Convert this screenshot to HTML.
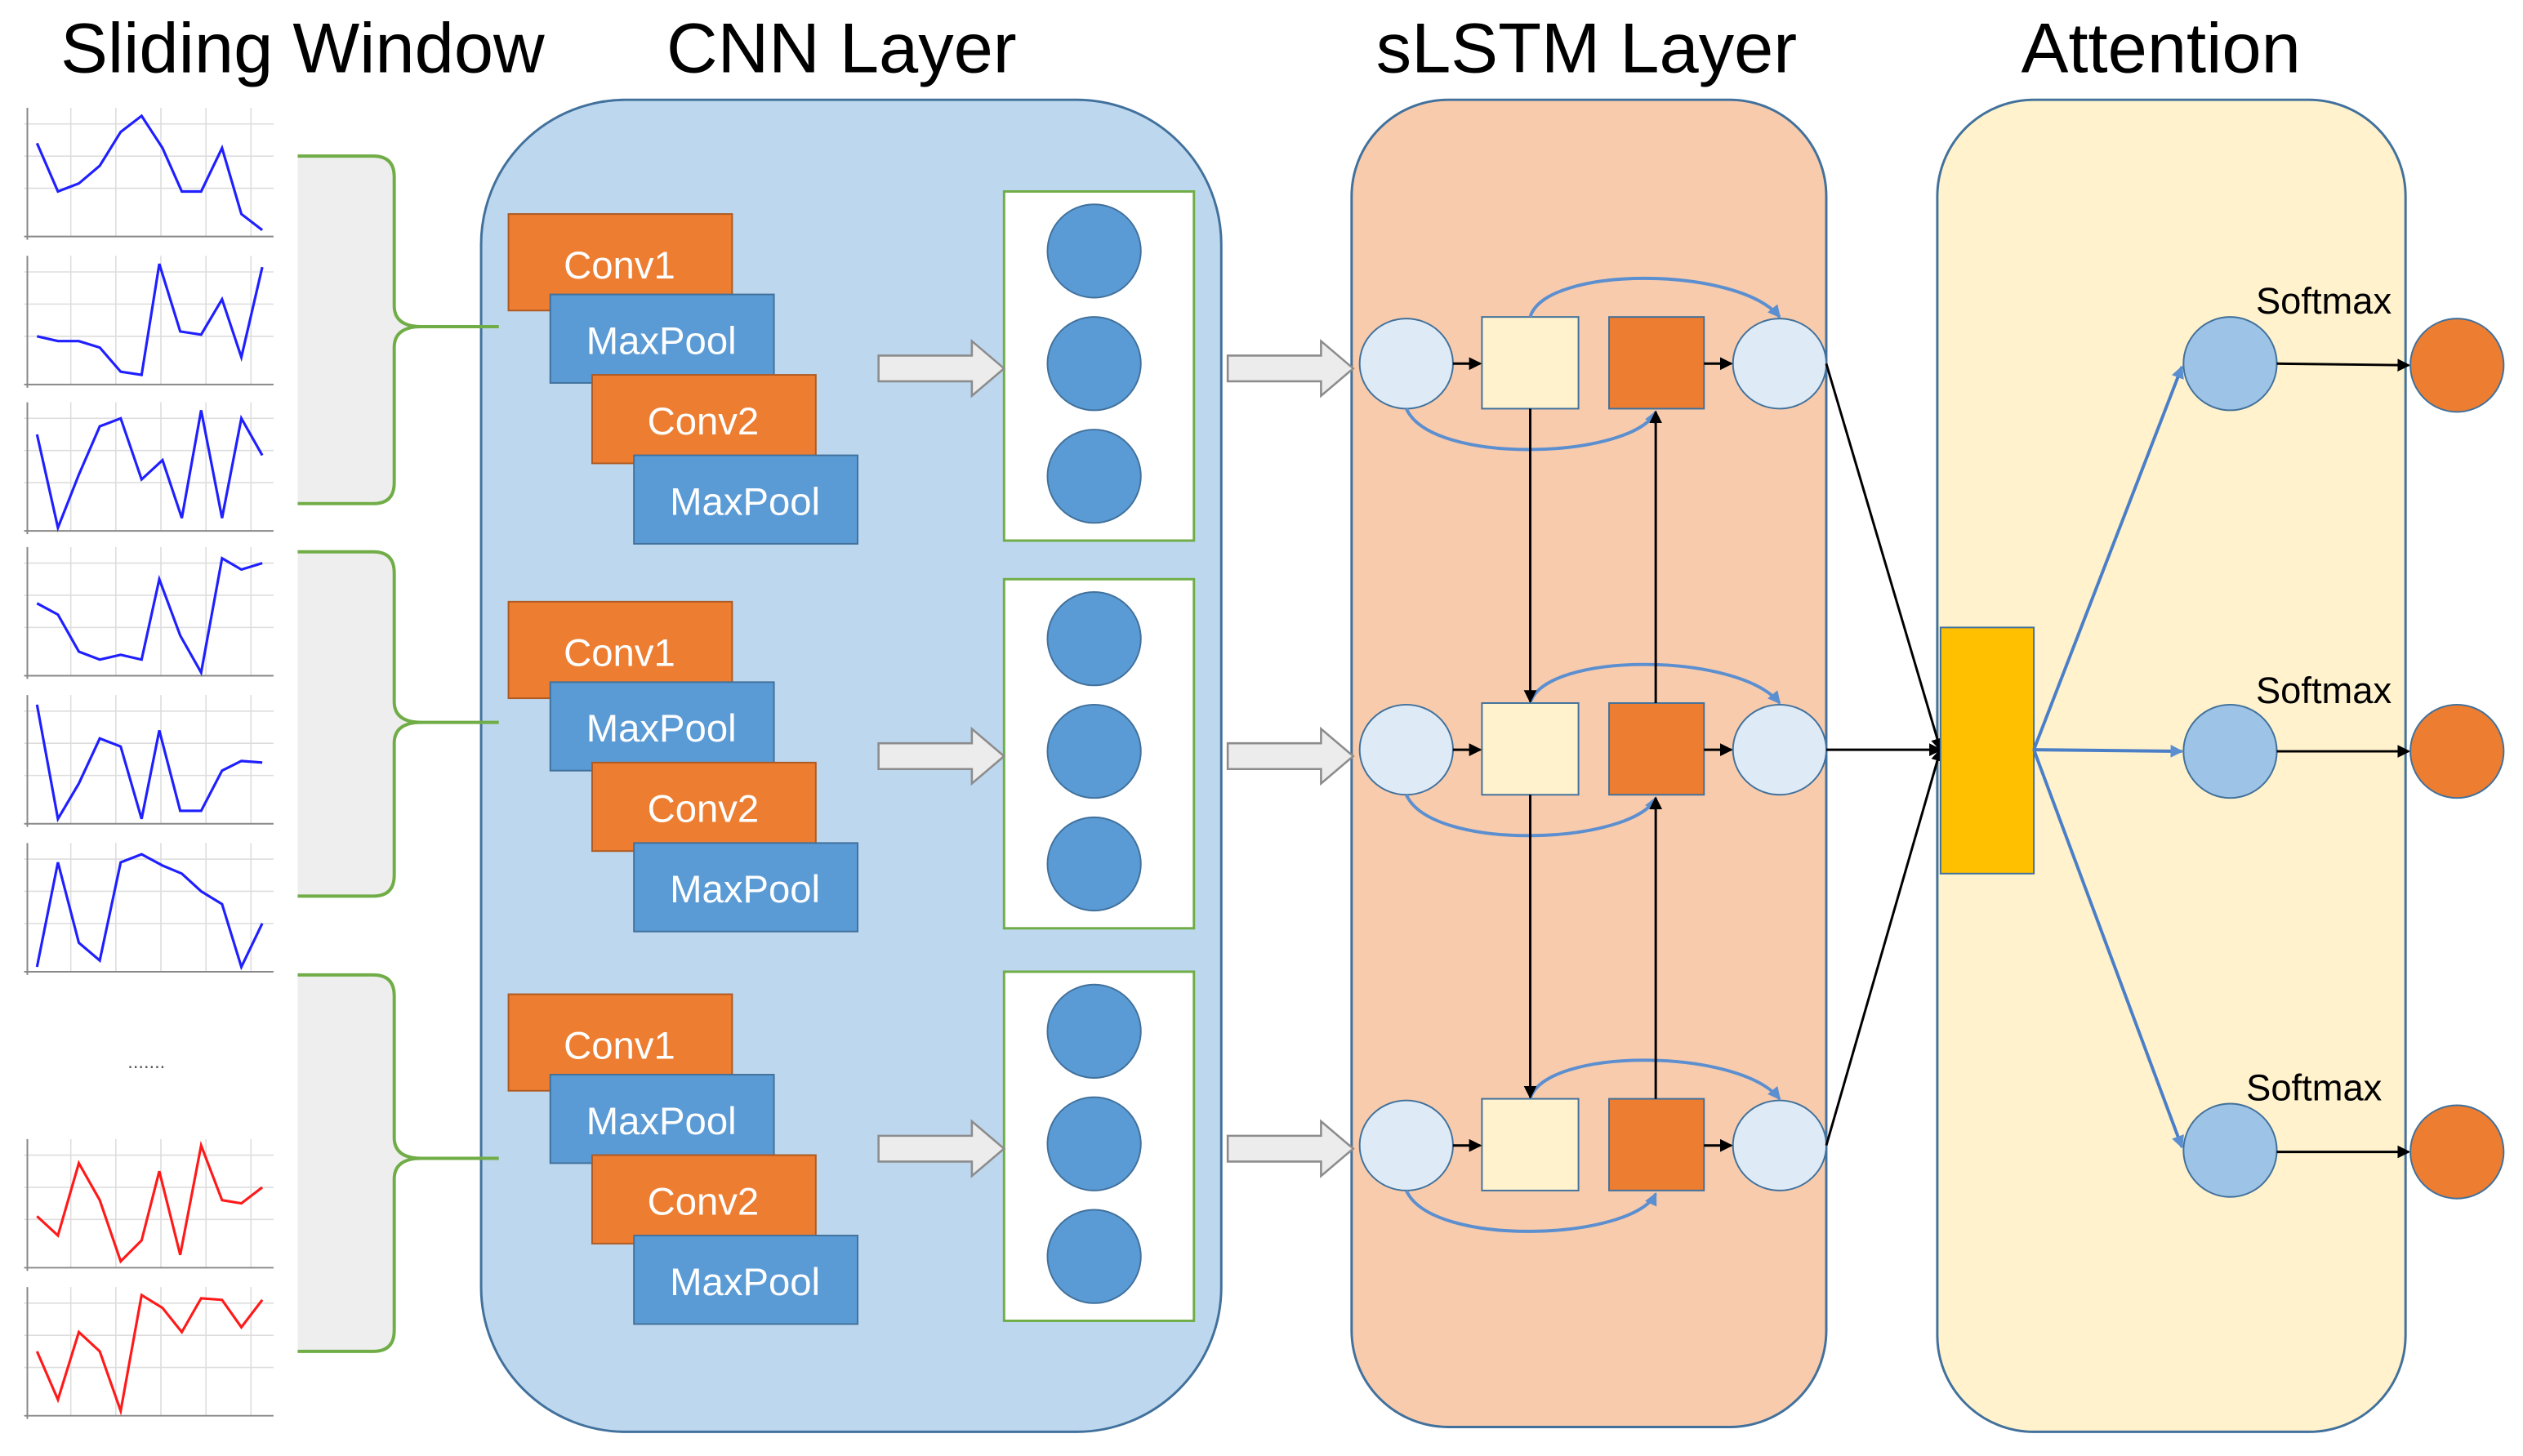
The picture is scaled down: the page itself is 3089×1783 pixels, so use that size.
<!DOCTYPE html>
<html><head><meta charset="utf-8"><style>html,body{margin:0;padding:0;background:#fff}svg{display:block}</style></head><body>
<svg width="3089" height="1783" viewBox="0 0 1568 905" xmlns="http://www.w3.org/2000/svg" font-family="Liberation Sans, sans-serif">
<defs>
<marker id="ab" markerWidth="8" markerHeight="8" refX="7" refY="4" orient="auto" markerUnits="userSpaceOnUse"><path d="M0,0 L8,4 L0,8 z" fill="#000"/></marker>
<marker id="abl" markerWidth="8" markerHeight="8" refX="7" refY="4" orient="auto" markerUnits="userSpaceOnUse"><path d="M0,0 L8,4 L0,8 z" fill="#5b8fd0"/></marker>
<g id="arr"><path d="M0,-8 H58 V-17 L78,0 L58,17 V8 H0 Z" fill="#ececec" stroke="#8c8c8c" stroke-width="1.3"/></g>
<g id="cnn">
<rect x="316" y="133" width="139" height="60" fill="#ed7d31" stroke="#ae5a21"/>
<text x="385" y="173" font-size="24" fill="#fff" text-anchor="middle">Conv1</text>
<rect x="342" y="183" width="139" height="55" fill="#5b9bd5" stroke="#41719c"/>
<text x="411" y="220" font-size="24" fill="#fff" text-anchor="middle">MaxPool</text>
<rect x="368" y="233" width="139" height="55" fill="#ed7d31" stroke="#ae5a21"/>
<text x="437" y="270" font-size="24" fill="#fff" text-anchor="middle">Conv2</text>
<rect x="394" y="283" width="139" height="55" fill="#5b9bd5" stroke="#41719c"/>
<text x="463" y="320" font-size="24" fill="#fff" text-anchor="middle">MaxPool</text>
<rect x="624" y="119" width="118" height="217" fill="#fff" stroke="#70ad47" stroke-width="1.5"/>
<circle cx="680" cy="156" r="29" fill="#5b9bd5" stroke="#41719c"/>
<circle cx="680" cy="226" r="29" fill="#5b9bd5" stroke="#41719c"/>
<circle cx="680" cy="296" r="29" fill="#5b9bd5" stroke="#41719c"/>
<use href="#arr" x="546" y="229"/>
<use href="#arr" x="763" y="229"/>
</g>
<g id="lstm">
<ellipse cx="874" cy="226" rx="29" ry="28" fill="#deebf7" stroke="#41719c"/>
<rect x="921" y="197" width="60" height="57" fill="#fff2cc" stroke="#41719c"/>
<rect x="1000" y="197" width="59" height="57" fill="#ed7d31" stroke="#41719c"/>
<ellipse cx="1106" cy="226" rx="29" ry="28" fill="#deebf7" stroke="#41719c"/>
<line x1="903" y1="226" x2="920" y2="226" stroke="#000" stroke-width="1.5" marker-end="url(#ab)"/>
<line x1="1059" y1="226" x2="1076" y2="226" stroke="#000" stroke-width="1.5" marker-end="url(#ab)"/>
<path d="M951,197 C960,165 1080,165 1106,197" fill="none" stroke="#5b8fd0" stroke-width="2" marker-end="url(#abl)"/>
<path d="M874,254 C890,290 1015,285 1029,256" fill="none" stroke="#5b8fd0" stroke-width="2" marker-end="url(#abl)"/>
</g>
<g id="chart">
<g stroke="#ddd" stroke-width="0.8">
<line x1="15" y1="10" x2="170" y2="10"/><line x1="15" y1="30" x2="170" y2="30"/><line x1="15" y1="50" x2="170" y2="50"/>
<line x1="44" y1="0" x2="44" y2="80"/><line x1="72" y1="0" x2="72" y2="80"/><line x1="100" y1="0" x2="100" y2="80"/><line x1="128" y1="0" x2="128" y2="80"/><line x1="156" y1="0" x2="156" y2="80"/>
</g>
<line x1="15" y1="80" x2="170" y2="80" stroke="#888"/><line x1="17" y1="0" x2="17" y2="82" stroke="#888"/>
</g>
</defs>
<rect width="1568" height="905" fill="#fff"/>
<text x="188" y="45" font-size="44" text-anchor="middle">Sliding Window</text>
<text x="523" y="45" font-size="44" text-anchor="middle">CNN Layer</text>
<text x="986" y="45" font-size="44" text-anchor="middle">sLSTM Layer</text>
<text x="1343" y="45" font-size="44" text-anchor="middle">Attention</text>

<rect x="299" y="62" width="460" height="828" rx="90" fill="#bdd7ee" stroke="#41719c" stroke-width="1.5"/>
<rect x="840" y="62" width="295" height="825" rx="60" fill="#f8cbad" stroke="#41719c" stroke-width="1.5"/>
<rect x="1204" y="62" width="291" height="828" rx="60" fill="#fff2cc" stroke="#41719c" stroke-width="1.5"/>

<use href="#cnn"/>
<use href="#cnn" y="241"/>
<use href="#cnn" y="485"/>

<use href="#lstm"/>
<use href="#lstm" y="240"/>
<use href="#lstm" y="486"/>
<g stroke="#000" stroke-width="1.5">
<line x1="951" y1="254" x2="951" y2="436" marker-end="url(#ab)"/>
<line x1="951" y1="494" x2="951" y2="682" marker-end="url(#ab)"/>
<line x1="1029" y1="437" x2="1029" y2="256" marker-end="url(#ab)"/>
<line x1="1029" y1="683" x2="1029" y2="496" marker-end="url(#ab)"/>
<line x1="1135" y1="226" x2="1206" y2="466" marker-end="url(#ab)"/>
<line x1="1135" y1="466" x2="1206" y2="466" marker-end="url(#ab)"/>
<line x1="1135" y1="712" x2="1206" y2="466" marker-end="url(#ab)"/>
</g>

<rect x="1206" y="390" width="58" height="153" fill="#ffc000" stroke="#41719c"/>
<g stroke="#4a7fc8" stroke-width="2">
<line x1="1264" y1="466" x2="1356" y2="228" marker-end="url(#abl)"/>
<line x1="1264" y1="466" x2="1356" y2="467" marker-end="url(#abl)"/>
<line x1="1264" y1="466" x2="1356" y2="713" marker-end="url(#abl)"/>
</g>
<g fill="#9dc3e6" stroke="#41719c">
<circle cx="1386" cy="226" r="29"/><circle cx="1386" cy="467" r="29"/><circle cx="1386" cy="715" r="29"/>
</g>
<g stroke="#000" stroke-width="1.5">
<line x1="1415" y1="226" x2="1497" y2="227" marker-end="url(#ab)"/>
<line x1="1415" y1="467" x2="1497" y2="467" marker-end="url(#ab)"/>
<line x1="1415" y1="716" x2="1497" y2="716" marker-end="url(#ab)"/>
</g>
<g fill="#ed7d31" stroke="#41719c">
<circle cx="1527" cy="227" r="29"/><circle cx="1527" cy="467" r="29"/><circle cx="1527" cy="716" r="29"/>
</g>
<g font-size="23">
<text x="1402" y="195">Softmax</text>
<text x="1402" y="437">Softmax</text>
<text x="1396" y="684">Softmax</text>
</g>

<g fill="#eeeeee" stroke="#70ad47" stroke-width="2">
<path d="M185,97 H232 Q245,97 245,110 V190 Q245,203 262,203 H310 H262 Q245,203 245,216 V300 Q245,313 232,313 H185"/>
<path d="M185,343 H232 Q245,343 245,356 V436 Q245,449 262,449 H310 H262 Q245,449 245,462 V544 Q245,557 232,557 H185"/>
<path d="M185,606 H232 Q245,606 245,619 V707 Q245,720 262,720 H310 H262 Q245,720 245,733 V827 Q245,840 232,840 H185"/>
</g>

<use href="#chart" y="67"/>
<polyline transform="translate(0,67)" fill="none" stroke="#1f1fff" stroke-width="1.6" points="23,22 36,52 49,47 62,36 75,15 88,5 101,25 113,52 125,52 138,25 150,66 163,76"/>
<use href="#chart" y="159"/>
<polyline transform="translate(0,159)" fill="none" stroke="#1f1fff" stroke-width="1.6" points="23,50 36,53 49,53 62,57 75,72 88,74 99,5 112,47 125,49 138,27 150,63 163,7"/>
<use href="#chart" y="250"/>
<polyline transform="translate(0,250)" fill="none" stroke="#1f1fff" stroke-width="1.6" points="23,20 36,78 49,45 62,15 75,10 88,48 101,36 113,72 125,5 138,72 150,10 163,33"/>
<use href="#chart" y="340"/>
<polyline transform="translate(0,340)" fill="none" stroke="#1f1fff" stroke-width="1.6" points="23,35 36,42 49,65 62,70 75,67 88,70 99,20 112,55 125,78 138,7 150,14 163,10"/>
<use href="#chart" y="432"/>
<polyline transform="translate(0,432)" fill="none" stroke="#1f1fff" stroke-width="1.6" points="23,6 36,77 49,55 62,27 75,32 88,77 99,22 112,72 125,72 138,47 150,41 163,42"/>
<use href="#chart" y="524"/>
<polyline transform="translate(0,524)" fill="none" stroke="#1f1fff" stroke-width="1.6" points="23,77 36,12 49,62 62,73 75,12 88,7 101,14 113,19 125,30 138,38 150,77 163,50"/>
<text x="91" y="664" font-size="12" fill="#555" text-anchor="middle">.......</text>
<use href="#chart" y="708"/>
<polyline transform="translate(0,708)" fill="none" stroke="#ff1a1a" stroke-width="1.6" points="23,48 36,60 49,15 62,38 75,76 88,63 99,20 112,72 125,4 138,38 150,40 163,30"/>
<use href="#chart" y="800"/>
<polyline transform="translate(0,800)" fill="none" stroke="#ff1a1a" stroke-width="1.6" points="23,40 36,70 49,28 62,40 75,77 88,5 101,13 113,28 125,7 138,8 150,25 163,8"/>
</svg>
</body></html>
